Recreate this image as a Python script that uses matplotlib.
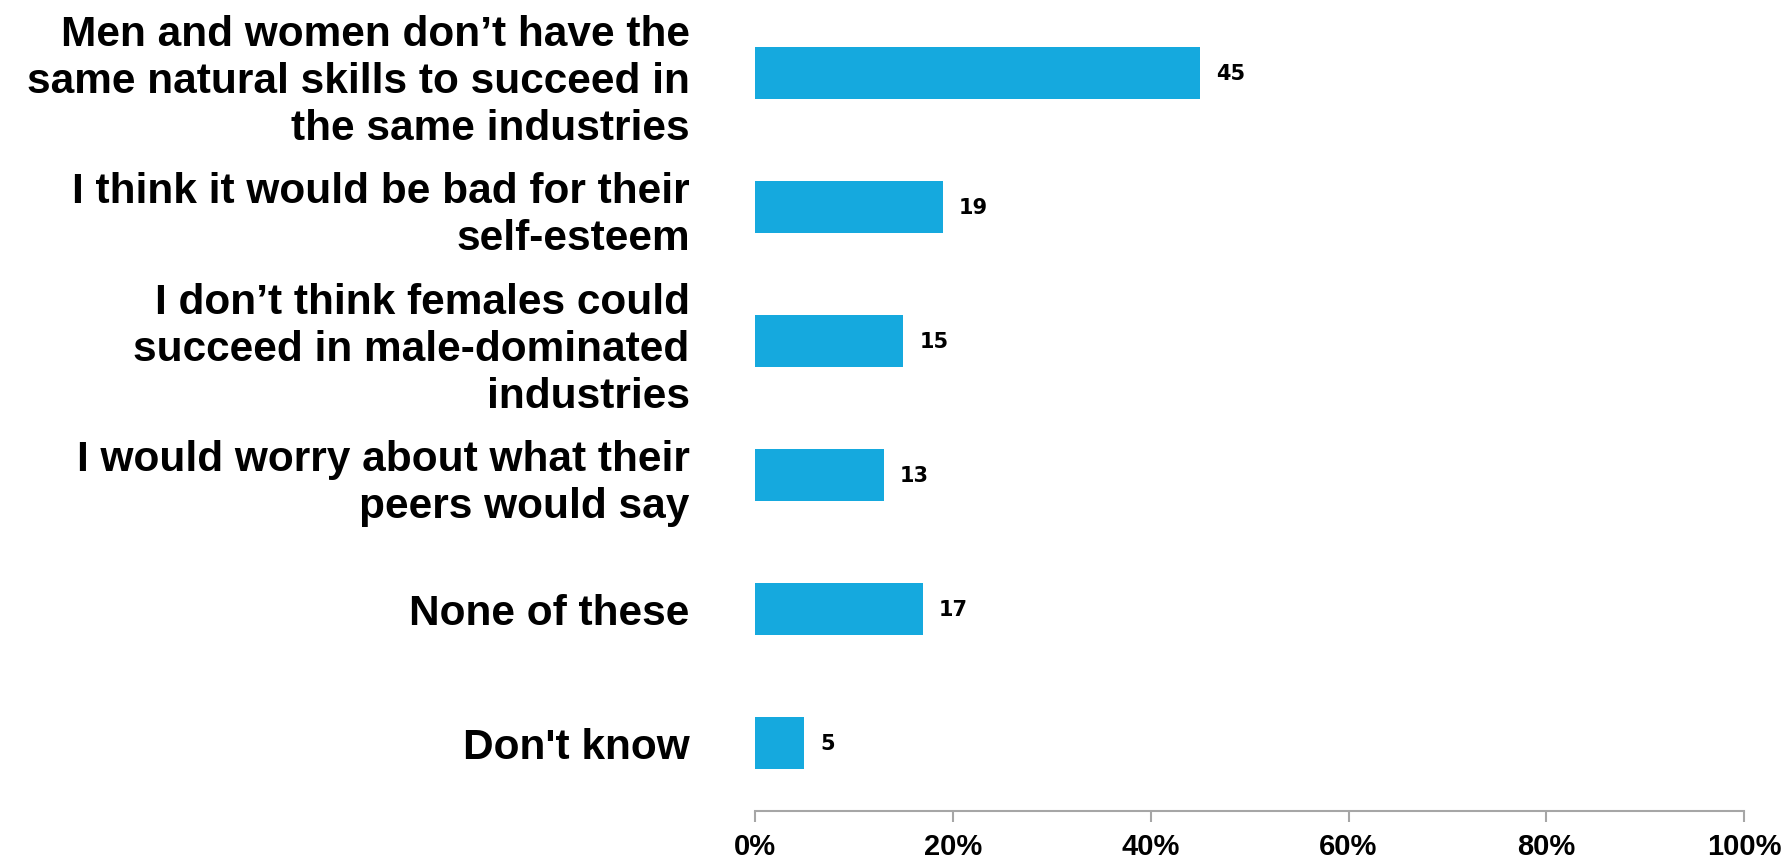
import matplotlib
matplotlib.use("Agg")
import matplotlib.pyplot as plt
from matplotlib.ticker import FuncFormatter

# Data
categories = [
    "Men and women don\u2019t have the\nsame natural skills to succeed in\nthe same industries",
    "I think it would be bad for their\nself-esteem",
    "I don\u2019t think females could\nsucceed in male-dominated\nindustries",
    "I would worry about what their\npeers would say",
    "None of these",
    "Don't know",
]
values = [45, 19, 15, 13, 17, 5]
xticks = [0, 20, 40, 60, 80, 100]

bar_color = "#15A9DE"
axis_color = "#A6A6A6"

plt.rcParams["font.family"] = ["Liberation Sans", "DejaVu Sans"]

fig = plt.figure(figsize=(17.89, 8.62), dpi=100)
ax = fig.add_axes([0.422, 0.058, 0.553, 0.934])

pos = list(range(len(categories)))
ax.barh(pos, values, height=0.39, color=bar_color)

# value labels next to the bars
for p, v in zip(pos, values):
    ax.annotate(str(v), (v, p), xytext=(16, 0), textcoords="offset pixels",
                va="center", ha="left", fontsize=15, fontweight="bold",
                family="DejaVu Sans")

ax.set_xlim(0, 100)
ax.set_ylim(len(categories) - 0.49, -0.5)
ax.set_xticks(xticks)
ax.xaxis.set_major_formatter(FuncFormatter(lambda x, _: f"{x:.0f}%"))
ax.set_yticks(pos)
ax.set_yticklabels(categories, fontsize=30.5, fontweight="bold", linespacing=1.22)

for s in ["top", "right", "left"]:
    ax.spines[s].set_visible(False)
ax.spines["bottom"].set_color(axis_color)
ax.spines["bottom"].set_linewidth(1.5)
ax.tick_params(axis="y", length=0, pad=47)
ax.tick_params(axis="x", direction="out", length=8, width=1.5, color=axis_color,
               labelsize=21, pad=7)
for t in ax.get_xticklabels():
    t.set_fontweight("bold")

fig.savefig("out.png", dpi=100)
